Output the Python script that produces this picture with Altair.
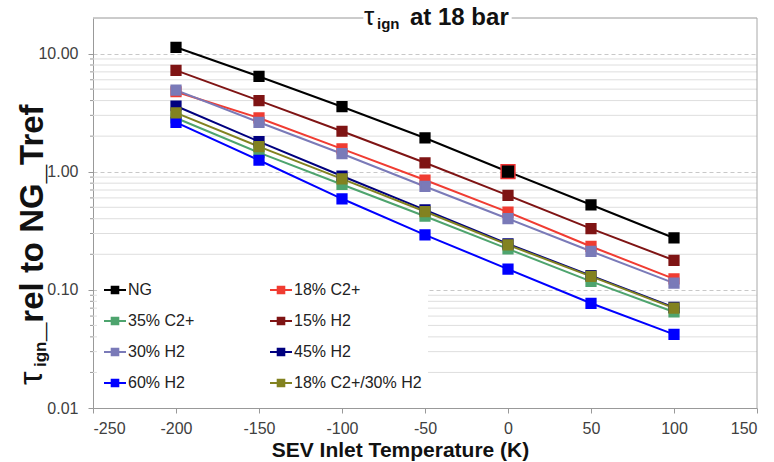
import altair as alt
import pandas as pd

# ---- data ----
temps = [-200, -150, -100, -50, 0, 50, 100]
names = ["NG", "18% C2+", "35% C2+", "15% H2", "30% H2", "45% H2", "60% H2", "18% C2+/30% H2"]
colors = ["#000000", "#f03c32", "#4ea46e", "#7f1414", "#7a7ab8", "#00007f", "#0000ff", "#828220"]
ng = [11.3, 6.4, 3.55, 1.93, 1.0, 0.525, 0.275]
c2_18 = [4.75, 2.85, 1.56, 0.85, 0.455, 0.233, 0.124]
c2_35 = [2.85, 1.45, 0.78, 0.42, 0.222, 0.118, 0.065]
h2_15 = [7.2, 4.0, 2.2, 1.19, 0.63, 0.33, 0.178]
h2_30 = [4.9, 2.62, 1.42, 0.75, 0.40, 0.212, 0.114]
h2_45 = [3.6, 1.8, 0.92, 0.475, 0.245, 0.132, 0.071]
h2_60 = [2.62, 1.25, 0.59, 0.292, 0.15, 0.077, 0.042]
c2_h2 = [3.15, 1.63, 0.87, 0.46, 0.24, 0.13, 0.07]
series_values = [ng, c2_18, c2_35, h2_15, h2_30, h2_45, h2_60, c2_h2]
ref_x = [0]
ref_y = [1.0]
x_ticks = [-250, -200, -150, -100, -50, 0, 50, 100, 150]
y_ticks = [0.01, 0.1, 1, 10]
minor_grid = [m * d for d in [0.01, 0.1, 1] for m in range(2, 10)] + [20]

# legend is filled column by column: reorder so it reads row by row
legend_idx = [0, 2, 4, 6, 1, 3, 5, 7]
legend_names = [names[i] for i in legend_idx]
legend_colors = [colors[i] for i in legend_idx]

rows = []
for n, vals in zip(names, series_values):
    for t, v in zip(temps, vals):
        rows.append({"series": n, "T": t, "v": v})
df = pd.DataFrame(rows)

W, H = 664, 390
FONT = "Liberation Sans"

xs = alt.Scale(domain=[-250, 150], nice=False, zero=False)
ys = alt.Scale(type="log", domain=[0.01, 20], nice=False)
cs = alt.Scale(domain=legend_names, range=legend_colors)

sym = "M-1,0H1M-0.3,-0.3H0.3V0.3H-0.3Z"
leg = alt.Legend(
    title=None, orient="none", legendX=4, legendY=254, columns=2,
    symbolType=sym, symbolSize=484, symbolStrokeWidth=2,
    labelFontSize=16, labelFont=FONT, labelColor="#222222", labelOffset=1,
    columnPadding=71, rowPadding=11, padding=6, fillColor="white",
    labelLimit=300,
)

xaxis = alt.Axis(
    values=x_ticks, grid=False, labelFontSize=16, labelFont=FONT, labelColor="#404040",
    labelExpr="datum.value < 0 ? '-' + abs(datum.value) : '' + datum.value",
    tickColor="#999999", tickSize=5, domainColor="#999999", labelPadding=7,
    title="SEV Inlet Temperature (K)", titleFontSize=21, titleFont=FONT,
    titleFontWeight="bold", titleColor="#111111", titleX=307, titleY=48,
    titleAlign="center", titleBaseline="alphabetic", titleAnchor="middle",
)
yaxis = alt.Axis(
    values=y_ticks, format=".2f", grid=True, gridDash=[4, 3], gridColor="#c8c8c8",
    labelFontSize=16, labelFont=FONT, labelColor="#404040", tickColor="#999999",
    tickSize=5, domainColor="#999999", labelPadding=10, title=None,
)

base = alt.Chart(df)

minor = alt.Chart(pd.DataFrame({"m": minor_grid})).mark_rule(
    color="#dedede", strokeWidth=1
).encode(y=alt.Y("m:Q", scale=ys, axis=yaxis), x=alt.value(0), x2=alt.value(W))

minor_ticks = alt.Chart(pd.DataFrame({"m": minor_grid[:-1]})).mark_rule(
    color="#999999", strokeWidth=1
).encode(y=alt.Y("m:Q", scale=ys), x=alt.value(-3), x2=alt.value(0))

one = pd.DataFrame({"a": [0]})
top_l = alt.Chart(one).mark_rule(color="#a8a8a8").encode(
    x=alt.value(0), x2=alt.value(270), y=alt.value(0))
top_r = alt.Chart(one).mark_rule(color="#a8a8a8").encode(
    x=alt.value(419), x2=alt.value(W), y=alt.value(0))
right = alt.Chart(one).mark_rule(color="#a8a8a8").encode(
    x=alt.value(W), y=alt.value(0), y2=alt.value(H))

lines = base.mark_line(strokeWidth=2).encode(
    x=alt.X("T:Q", scale=xs, axis=xaxis),
    y=alt.Y("v:Q", scale=ys),
    stroke=alt.Stroke("series:N", scale=cs, legend=leg, sort=legend_names),
    order=alt.Order("T:Q"),
)
squares = base.mark_square(size=85, filled=True, opacity=1).encode(
    x=alt.X("T:Q", scale=xs),
    y=alt.Y("v:Q", scale=ys),
    fill=alt.Fill("series:N", scale=cs, legend=leg, sort=legend_names),
    stroke=alt.Stroke("series:N", scale=cs, legend=leg, sort=legend_names),
)
refpt = alt.Chart(pd.DataFrame({"T": ref_x, "v": ref_y})).mark_square(
    size=190, filled=True, color="#000000", stroke="#ee3333", strokeWidth=1.5, opacity=1
).encode(x=alt.X("T:Q", scale=xs), y=alt.Y("v:Q", scale=ys))

def txt(s, x, y, size, weight="normal", angle=0):
    return alt.Chart(one).mark_text(
        text=s, font=FONT, fontSize=size, fontWeight=weight, align="left",
        baseline="alphabetic", angle=angle, color="#111111",
    ).encode(x=alt.value(x), y=alt.value(y))

title_bg = alt.Chart(one).mark_rect(color="white").encode(
    x=alt.value(271), x2=alt.value(418), y=alt.value(-4), y2=alt.value(4))

t1 = txt("τ", 271, 7, 26)
t2 = txt("ign", 284, 11, 15, "bold")
t3 = txt("at 18 bar", 317, 7, 24, "bold")

y1 = txt("τ", -51, 367, 34, angle=270)
y2 = txt("ign", -47, 349, 17, "bold", angle=270)
y3 = txt("_rel to NG_Tref", -50, 323, 33, "bold", angle=270)

chart = alt.layer(
    minor, minor_ticks, top_l, top_r, right, lines, squares, refpt,
    title_bg, t1, t2, t3, y1, y2, y3
).resolve_scale(
    stroke="shared", fill="shared"
).properties(
    width=W, height=H,
    autosize=alt.AutoSizeParams(type="none"),
    padding={"left": 93, "top": 18, "right": 17, "bottom": 54},
    background="white",
).configure_view(stroke=None)

chart.save("out.html", embed_options={"renderer": "svg", "actions": False})
